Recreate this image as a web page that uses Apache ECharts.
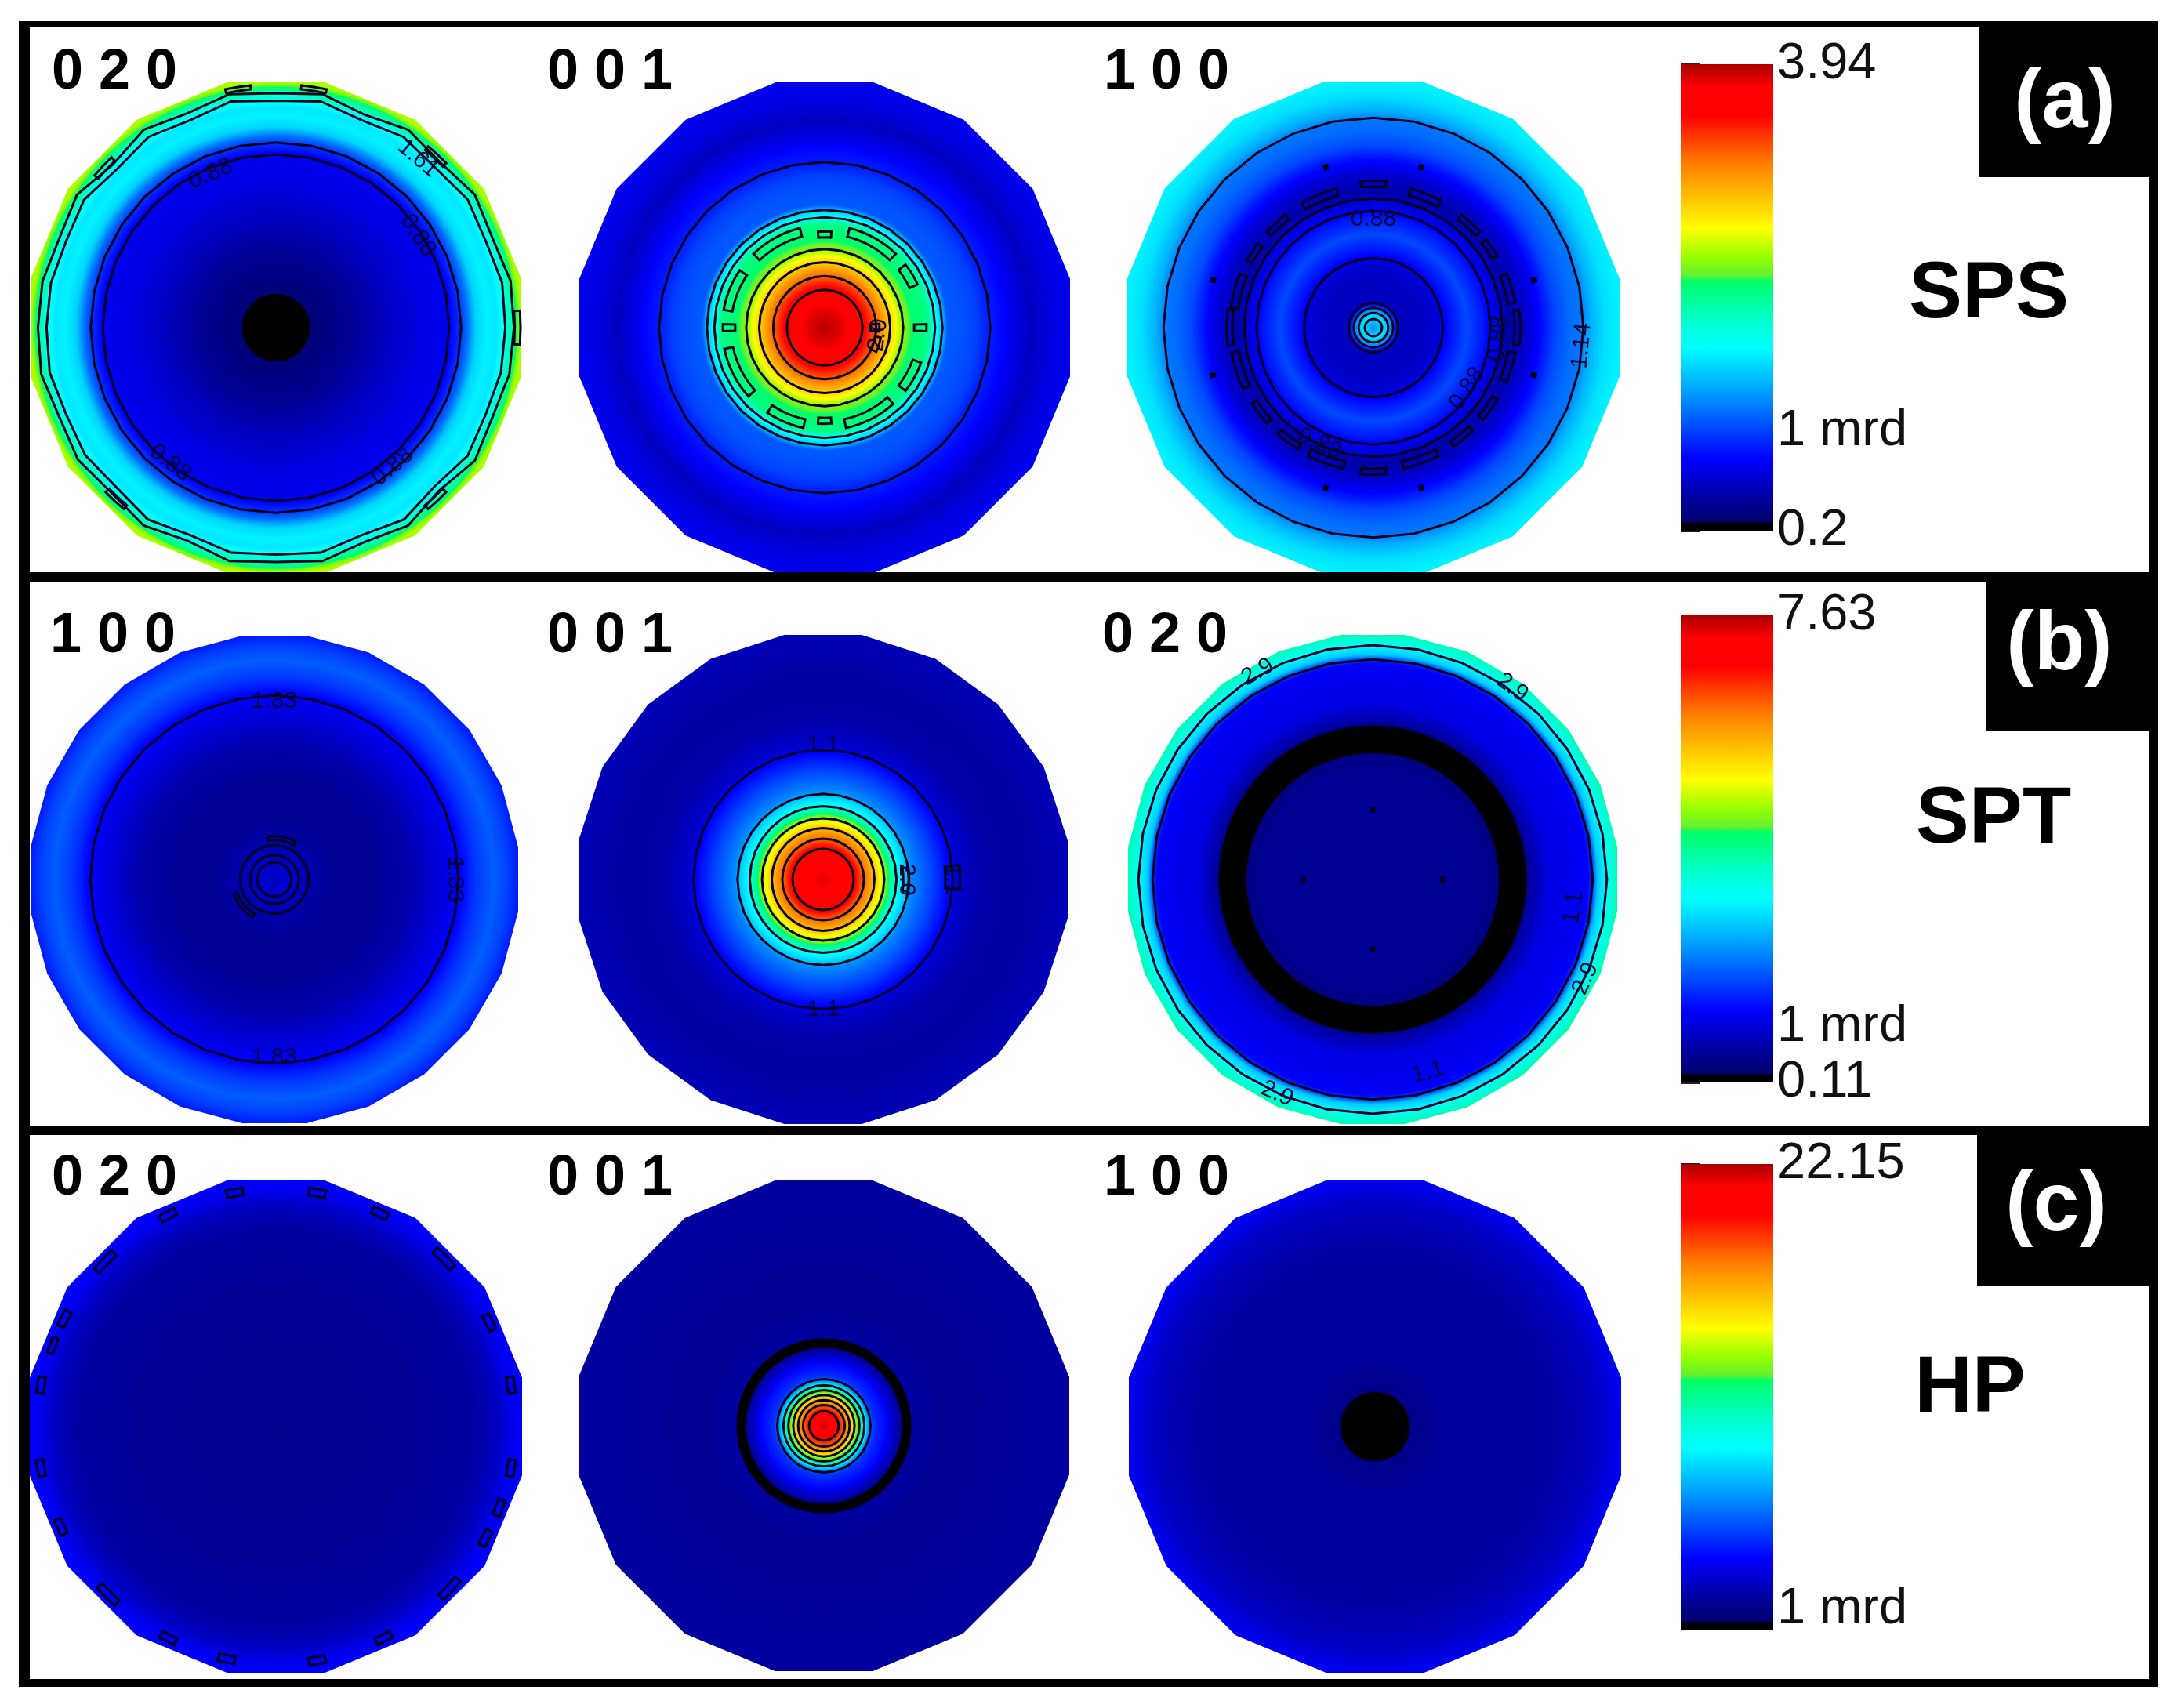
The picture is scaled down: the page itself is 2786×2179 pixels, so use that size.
<!DOCTYPE html>
<html>
<head>
<meta charset="utf-8">
<title>Pole figures</title>
<script src="https://cdn.jsdelivr.net/npm/echarts@6/dist/echarts.min.js"></script>
<style>
html, body { margin: 0; padding: 0; background: #fff; }
#chart { width: 2786px; height: 2179px; }
</style>
</head>
<body>
<div id="chart"></div>
<script>
// colour scale, t is position along the colour bar
var scaleT = [0, 0.015, 0.02, 0.062, 0.154, 0.231, 0.308, 0.393, 0.455, 0.536, 0.547, 0.586, 0.648, 0.786, 0.89, 0.95, 1];
var scaleRGB = [[0,0,0],[0,0,0],[0,0,110],[0,0,150],[0,0,255],[0,85,255],[0,170,255],[0,255,255],[0,255,200],[0,255,100],
    [100,240,50],[150,255,0],[255,255,0],[255,128,0],[255,0,0],[255,0,0],[170,0,0]];

// colour bar ranges and ticks (mrd)
var rangeSps = [0.2, 3.94], rangeSpt = [0.11, 7.63], rangeHp = [0, 22.15];
var ticksSps = [0.2, 1, 3.94], ticksSpt = [0.11, 1, 7.63], ticksHp = [0, 1, 22.15];
var tickLabelsSps = ['0.2', '1 mrd', '3.94'], tickLabelsSpt = ['0.11', '1 mrd', '7.63'], tickLabelsHp = ['0.0', '1 mrd', '22.15'];

// radial profiles: fraction of pole radius -> mrd
var radiiSps020 = [0,.135,.14,.3,.45,.6,.7,.745,.78,.817,.86,.9,.935,.97,1];
var valuesSps020 = [.2,.2,.31,.42,.57,.69,.72,.91,1.15,1.51,1.62,1.58,1.77,2.07,2.44];
var radiiSps001 = [0,.06,.15,.2,.26,.29,.32,.36,.42,.46,.48,.5,.55,.62,.67,.72,.78,.84,.92,1];
var valuesSps001 = [3.9,3.83,3.64,3.3,2.86,2.63,2.33,2.18,2.11,1.62,1.43,1.08,1.06,.99,.87,.8,.69,.57,.67,.72];
var radiiSps100 = [0,.03,.04,.06,.08,.1,.2,.28,.3,.38,.45,.5,.55,.62,.68,.74,.8,.84,.88,.94,1];
var valuesSps100 = [1.25,1.47,1.62,1.4,1.14,.57,.57,.67,.8,1.02,.84,.67,.48,.61,.8,1.02,1.14,1.17,1.36,1.55,1.62];

var radiiSpt100 = [0,.06,.15,.25,.4,.55,.7,.76,.82,.9,.96,1];
var valuesSpt100 = [.86,.94,.71,.56,.56,.71,1.09,1.24,1.61,1.91,1.69,1.46];
var radiiSpt001 = [0,.08,.13,.16,.21,.24,.27,.31,.34,.36,.45,.52,.55,.65,.8,1];
var valuesSpt001 = [7.4,7.1,6.88,6.28,5.52,4.85,4.02,3.04,2.67,2.22,1.69,1.24,.94,.71,.64,.79];
var radiiSpt020 = [0,.45,.51,.52,.625,.64,.72,.82,.88,.9,.92,.95,.97,1];
var valuesSpt020 = [.56,.56,.41,.15,.15,.64,1.09,1.16,1.24,1.69,2.67,2.97,3.27,3.64];

var radiiHp020 = [0,.5,.8,.9,.96,1];
var valuesHp020 = [1.22,1.33,1.55,2.22,3.1,3.32];
var radiiHp001 = [0,.05,.085,.12,.135,.16,.18,.2,.25,.31,.32,.355,.36,.5,1];
var valuesHp001 = [21.7,20.4,17.7,15.1,12.4,10,6.65,4.43,3.54,1.55,.11,.11,1.55,1.33,1.55];
var radiiHp100 = [0,.135,.15,.3,.7,.9,1];
var valuesHp100 = [0,0,1.11,1.55,1.55,2.22,3.1];

// contour lines: a radius, or a list of radii read around the circle
var jagOuterSps020 = [.97,.975,.955,.975,.95,.97,.94,.97,.955,.97,.945,.97,.94,.975,.955,.97,.97,.975,.955,.97,.95,.97,.94,.97,.955,.97,.945,.97,.94,.975,.955,.97];
var jagInnerSps020 = [.935,.94,.925,.94,.92,.935,.915,.94,.925,.94,.915,.935,.915,.94,.925,.935,.935,.94,.925,.935,.92,.94,.915,.935,.925,.935,.915,.94,.915,.94,.925,.935];
var contoursSps020 = [.706, .755, jagInnerSps020, jagOuterSps020];
var contoursSps001 = [.154, .21, .267, .32, .45, .48, .675];
var contoursSps100 = [.035, .06, .08, .1, .282, .475, .525, .853];
var contoursSpt100 = [.07, .1, .14, .755];
var contoursSpt001 = [.125, .167, .21, .25, .3, .35, .53];
var contoursSpt020 = [.9, .958];
var contoursHp020 = [];
var contoursHp001 = [.06, .085, .105, .125, .145, .165, .19];
var contoursHp100 = [];

// small closed contours: radius, start angle, end angle, half width
var islandsSps020 = [[.985,78,84,.008],[.985,96,102,.008],[.985,356,364,.012],[.955,44,50,.01],[.955,134,140,.01],[.955,224,230,.01],[.955,310,316,.01]];
var islandsSps001 = [[.38,86,94,.012],[.39,178,182,.025],[.39,358,362,.025],[.38,266,274,.012],
    [.4,25,38,.018],[.4,46,76,.018],[.4,104,134,.018],[.4,146,170,.018],[.4,192,222,.018],[.4,236,258,.018],[.4,282,312,.018],[.4,322,340,.018],
    [.205,356,364,.018],[.22,335,350,.012]];
var islandsSps100 = [[.585,85,95,.012],[.585,265,275,.012],[.585,173,187,.012],[.585,353,367,.012],
    [.57,62,75,.015],[.57,105,120,.015],[.57,128,138,.012],[.57,42,52,.012],[.57,30,38,.012],[.57,10,22,.015],
    [.57,158,172,.015],[.57,144,152,.012],[.57,190,205,.015],[.57,212,222,.012],[.57,228,238,.012],[.57,243,258,.015],
    [.57,282,297,.015],[.57,304,314,.012],[.57,320,330,.012],[.57,338,350,.015],
    [.68,106,107,.008],[.68,73,74,.008],[.68,163,164,.008],[.68,16,17,.008],[.68,196,197,.008],[.68,343,344,.008],[.68,253,254,.008],[.68,286,287,.008]];
var islandsSpt100 = [[.17,60,100,.008],[.17,200,240,.008]];
var islandsSpt001 = [[.34,352,8,.012],[.53,356,6,.03]];
var islandsSpt020 = [[.285,89,91,.006],[.285,269,271,.006],[.285,178,182,.006],[.285,358,362,.006]];
var islandsHp020 = [[.965,98,102,.015],[.965,78,82,.015],[.965,115,119,.015],[.965,62,66,.015],[.965,133,139,.015],[.965,42,48,.015],[.965,151,155,.015],[.965,158,162,.012],
    [.965,24,28,.015],[.97,8,12,.015],[.97,168,172,.015],[.97,188,192,.015],[.97,348,352,.015],[.965,338,342,.015],[.965,330,334,.015],[.965,203,207,.015],
    [.965,222,228,.015],[.965,314,320,.015],[.965,241,245,.015],[.965,295,299,.015],[.965,256,260,.015],[.965,278,282,.015]];
var islandsHp001 = [];
var islandsHp100 = [];

// contour value labels: radius, angle, text
var labelsSps020 = [[.9,50,'1.61'],[.68,113,'0.88'],[.69,33,'0.88'],[.7,232,'0.88'],[.74,310,'0.88']];
var labelsSps001 = [[.22,352,'2.0']];
var labelsSps100 = [[.44,90,'0.88'],[.455,327,'0.88'],[.51,355,'0.88'],[.52,245,'0.88'],[.85,355,'1.14']];
var labelsSpt100 = [[.73,90,'1.83'],[.73,270,'1.83'],[.74,0,'1.83']];
var labelsSpt001 = [[.55,90,'1.1'],[.53,270,'1.1'],[.53,0,'1.1'],[.34,0,'2.0']];
var labelsSpt020 = [[.97,119,'2.9'],[.97,54,'2.9'],[.96,335,'2.9'],[.96,246,'2.9'],[.82,286,'1.1'],[.83,352,'1.1']];
var labelsHp020 = [], labelsHp001 = [], labelsHp100 = [];

function scaleColor(t) {
    t = Math.max(0, Math.min(1, t));
    for (var i = 1; i < scaleT.length; i++) {
        if (t <= scaleT[i]) {
            var f = (t - scaleT[i - 1]) / (scaleT[i] - scaleT[i - 1] || 1);
            var a = scaleRGB[i - 1], b = scaleRGB[i];
            return 'rgb(' + Math.round(a[0] + (b[0] - a[0]) * f) + ',' + Math.round(a[1] + (b[1] - a[1]) * f) + ',' + Math.round(a[2] + (b[2] - a[2]) * f) + ')';
        }
    }
    return 'rgb(170,0,0)';
}

// gradient stops for one pole, passing the colour scale between readings
function profileStops(radii, values, range) {
    var stops = [];
    for (var i = 0; i < radii.length - 1; i++) {
        for (var k = 0; k < 8; k++) {
            var f = k / 8;
            var v = values[i] + (values[i + 1] - values[i]) * f;
            stops.push({ offset: radii[i] + (radii[i + 1] - radii[i]) * f, color: scaleColor((v - range[0]) / (range[1] - range[0])) });
        }
    }
    stops.push({ offset: 1, color: scaleColor((values[values.length - 1] - range[0]) / (range[1] - range[0])) });
    return stops;
}

var poles = [
    { cx: 352, cy: 418, r: 313, sides: 16, range: rangeSps, radii: radiiSps020, values: valuesSps020, contours: contoursSps020, islands: islandsSps020, labels: labelsSps020 },
    { cx: 1052, cy: 418, r: 313, sides: 16, range: rangeSps, radii: radiiSps001, values: valuesSps001, contours: contoursSps001, islands: islandsSps001, labels: labelsSps001 },
    { cx: 1752, cy: 418, r: 314, sides: 16, range: rangeSps, radii: radiiSps100, values: valuesSps100, contours: contoursSps100, islands: islandsSps100, labels: labelsSps100 },
    { cx: 350, cy: 1122, r: 311, sides: 24, range: rangeSpt, radii: radiiSpt100, values: valuesSpt100, contours: contoursSpt100, islands: islandsSpt100, labels: labelsSpt100 },
    { cx: 1050, cy: 1122, r: 312, sides: 20, range: rangeSpt, radii: radiiSpt001, values: valuesSpt001, contours: contoursSpt001, islands: islandsSpt001, labels: labelsSpt001 },
    { cx: 1751, cy: 1122, r: 312, sides: 24, range: rangeSpt, radii: radiiSpt020, values: valuesSpt020, contours: contoursSpt020, islands: islandsSpt020, labels: labelsSpt020 },
    { cx: 352, cy: 1820, r: 314, sides: 16, range: rangeHp, radii: radiiHp020, values: valuesHp020, contours: contoursHp020, islands: islandsHp020, labels: labelsHp020 },
    { cx: 1051, cy: 1819, r: 313, sides: 16, range: rangeHp, radii: radiiHp001, values: valuesHp001, contours: contoursHp001, islands: islandsHp001, labels: labelsHp001 },
    { cx: 1754, cy: 1820, r: 314, sides: 16, range: rangeHp, radii: radiiHp100, values: valuesHp100, contours: contoursHp100, islands: islandsHp100, labels: labelsHp100 }
];

var bars = [
    { top: 82, bottom: 677, range: rangeSps, ticks: ticksSps, labels: tickLabelsSps },
    { top: 785, bottom: 1381, range: rangeSpt, ticks: ticksSpt, labels: tickLabelsSpt },
    { top: 1485, bottom: 2080, range: rangeHp, ticks: ticksHp, labels: tickLabelsHp }
];

var polar = [], angleAxis = [], radiusAxis = [], series = [];
var lineColor = '#03031c';

poles.forEach(function (p, i) {
    polar.push({ center: [p.cx, p.cy], radius: p.r });
    angleAxis.push({ polarIndex: i, type: 'value', min: 0, max: 360, startAngle: 0, clockwise: false, show: false });
    radiusAxis.push({ polarIndex: i, type: 'value', min: 0, max: 1, show: false });
    var stops = profileStops(p.radii, p.values, p.range);

    // filled pole figure
    series.push({
        type: 'custom', coordinateSystem: 'polar', polarIndex: i, silent: true, z: 2, clip: false,
        data: [[1, 0]],
        renderItem: function (params, api) {
            var c = api.coord([0, 0]);
            var R = api.coord([1, 0])[0] - c[0];
            var pts = [];
            for (var k = 0; k < p.sides; k++) {
                pts.push(api.coord([1 / Math.cos(Math.PI / p.sides), (k + 0.5) * 360 / p.sides]));
            }
            return { type: 'polygon', shape: { points: pts }, style: { fill: new echarts.graphic.RadialGradient(c[0], c[1], R, stops, true) } };
        }
    });

    // contour lines
    series.push({
        type: 'custom', coordinateSystem: 'polar', polarIndex: i, silent: true, z: 3, clip: false,
        data: p.contours.map(function (c, j) { return [typeof c === 'number' ? c : c[0], j]; }),
        renderItem: function (params, api) {
            var c = p.contours[params.dataIndex];
            var n = typeof c === 'number' ? 32 : c.length;
            var pts = [];
            for (var k = 0; k < n; k++) {
                pts.push(api.coord([typeof c === 'number' ? c : c[k], k * 360 / n]));
            }
            return { type: 'polygon', shape: { points: pts }, style: { fill: 'none', stroke: lineColor, lineWidth: 3 } };
        }
    });

    // small closed contours
    series.push({
        type: 'custom', coordinateSystem: 'polar', polarIndex: i, silent: true, z: 3, clip: false,
        data: p.islands,
        renderItem: function (params, api) {
            var s = p.islands[params.dataIndex];
            var a0 = s[1], a1 = s[2] < s[1] ? s[2] + 360 : s[2];
            var pts = [], m = Math.max(1, Math.round((a1 - a0) / 4));
            for (var k = 0; k <= m; k++) { pts.push(api.coord([s[0] + s[3], a0 + (a1 - a0) * k / m])); }
            for (k = m; k >= 0; k--) { pts.push(api.coord([s[0] - s[3], a0 + (a1 - a0) * k / m])); }
            return { type: 'polygon', shape: { points: pts }, style: { fill: a1 - a0 < 3 ? lineColor : 'none', stroke: lineColor, lineWidth: 3 } };
        }
    });

    // contour value labels
    series.push({
        type: 'custom', coordinateSystem: 'polar', polarIndex: i, silent: true, z: 4, clip: false,
        data: p.labels.map(function (l) { return [l[0], l[1]]; }),
        renderItem: function (params, api) {
            var l = p.labels[params.dataIndex];
            var pt = api.coord([l[0], l[1]]);
            var a = l[1] > 180 ? l[1] - 270 : l[1] - 90;
            return {
                type: 'text', x: pt[0], y: pt[1], rotation: a * Math.PI / 180,
                style: { text: l[2], font: '30px "Liberation Sans"', fill: '#04083a', textAlign: 'center', textVerticalAlign: 'middle' }
            };
        }
    });
});

var grid = [], xAxis = [], yAxis = [];
bars.forEach(function (b, i) {
    grid.push({ left: 2144, top: b.top, width: 118, height: b.bottom - b.top });
    xAxis.push({ gridIndex: i, type: 'value', min: 0, max: 1, show: false });
    yAxis.push({
        gridIndex: i, type: 'value', position: 'right', min: b.range[0], max: b.range[1], splitLine: { show: false },
        axisLine: { show: false },
        axisTick: { show: true, length: 24, customValues: b.ticks, lineStyle: { color: '#222', width: 3 } },
        axisLabel: {
            show: true, customValues: b.ticks, margin: 5, fontFamily: 'Liberation Sans', fontSize: 65, color: '#111', padding: [14, 0, 0, 0],
            formatter: function (v) { return b.labels[b.ticks.indexOf(v)]; }
        }
    });
    series.push({
        type: 'custom', coordinateSystem: 'cartesian2d', xAxisIndex: i, yAxisIndex: i, silent: true, z: 2,
        data: [[0, b.range[1], 1, b.range[0]]],
        renderItem: function (params, api) {
            var a = api.coord([0, b.range[1]]), c = api.coord([1, b.range[0]]);
            var stops = scaleT.map(function (t) { return { offset: 1 - t, color: scaleColor(t) }; }).reverse();
            return {
                type: 'rect', shape: { x: a[0], y: a[1], width: c[0] - a[0], height: c[1] - a[1] },
                style: { fill: new echarts.graphic.LinearGradient(0, 0, 0, 1, stops) }
            };
        }
    });
});

function box(x0, y0, x1, y1) {
    return { type: 'rect', z: 10, silent: true, shape: { x: x0, y: y0, width: x1 - x0, height: y1 - y0 }, style: { fill: '#000' } };
}
function label(text, x, y, size, fill, align) {
    return {
        type: 'text', z: 11, silent: true, x: x, y: y,
        style: { text: text, font: 'bold ' + size + 'px "Liberation Sans"', fill: fill, textAlign: align, textVerticalAlign: 'middle' }
    };
}

var graphics = [
    box(24, 27, 2753, 35), box(24, 27, 38, 2152), box(2741, 27, 2753, 2152), box(24, 2142, 2753, 2152),
    box(24, 730, 2753, 742), box(24, 1436, 2753, 1448),
    box(2524, 35, 2741, 226), box(2533, 742, 2741, 933), box(2522, 1448, 2741, 1640),
    label('(a)', 2634, 133, 106, '#fff', 'center'), label('(b)', 2627, 825, 106, '#fff', 'center'), label('(c)', 2623, 1540, 106, '#fff', 'center'),
    label('SPS', 2537, 377, 102, '#000', 'center'), label('SPT', 2543, 1047, 102, '#000', 'center'), label('HP', 2513, 1773, 102, '#000', 'center'),
    label('0 2 0', 66, 93, 72, '#000', 'left'), label('0 0 1', 698, 93, 72, '#000', 'left'), label('1 0 0', 1408, 93, 72, '#000', 'left'),
    label('1 0 0', 64, 812, 72, '#000', 'left'), label('0 0 1', 698, 812, 72, '#000', 'left'), label('0 2 0', 1406, 812, 72, '#000', 'left'),
    label('0 2 0', 66, 1504, 72, '#000', 'left'), label('0 0 1', 698, 1504, 72, '#000', 'left'), label('1 0 0', 1408, 1504, 72, '#000', 'left')
];

var chart = echarts.init(document.getElementById('chart'));
chart.setOption({
    animation: false,
    backgroundColor: '#fff',
    polar: polar,
    angleAxis: angleAxis,
    radiusAxis: radiusAxis,
    grid: grid,
    xAxis: xAxis,
    yAxis: yAxis,
    graphic: { elements: graphics },
    series: series
});
</script>
</body>
</html>
